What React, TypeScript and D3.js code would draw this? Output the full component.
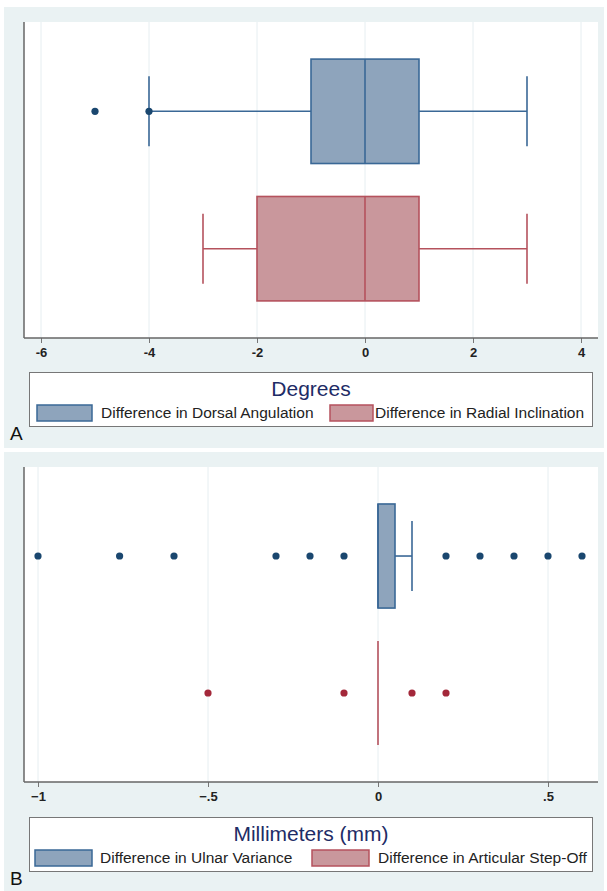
import React, { useEffect, useRef } from 'react';
import * as d3 from 'd3';

// panel A - degrees
const catsA = ['Difference in Dorsal Angulation', 'Difference in Radial Inclination'];
const q1A = [-1, -2];
const medA = [0, 0];
const q3A = [1, 1];
const loA = [-4, -3];
const hiA = [3, 3];
const outA = [[-5, -4], []];
const ticksA = [-6, -4, -2, 0, 2, 4];

// panel B - millimeters
const catsB = ['Difference in Ulnar Variance', 'Difference in Articular Step-Off'];
const q1B = [0, 0];
const medB = [0, 0];
const q3B = [0.05, 0];
const loB = [0, 0];
const hiB = [0.1, 0];
const outB = [
  [-1, -0.76, -0.6, -0.3, -0.2, -0.1, 0.2, 0.3, 0.4, 0.5, 0.6],
  [-0.5, -0.1, 0.1, 0.2],
];
const ticksB = [-1, -0.5, 0, 0.5];

const FONT = '"Liberation Sans", Arial, sans-serif';
const BG = '#eaf2f3';
const FILLS = ['#8ea4bc', '#c9979c'];
const STROKES = ['#3a6896', '#b5525d'];
const DOTS = ['#1a476f', '#a3283a'];

const drawPanel = (svg, p) => {
  const g = svg.append('g');

  // outer background
  g.append('rect')
    .attr('x', 4).attr('y', p.bgTop)
    .attr('width', 600).attr('height', p.bgBottom - p.bgTop)
    .attr('fill', BG);

  // plot region
  g.append('rect')
    .attr('x', 24).attr('y', p.plotTop)
    .attr('width', 574).attr('height', p.plotBottom - p.plotTop)
    .attr('fill', 'white');

  const x = d3.scaleLinear().domain(p.domain).range(p.range);
  const y = d3.scalePoint().domain(p.cats).range([p.plotTop, p.plotBottom]).padding(0.65);
  const step = y.step();
  const boxH = step * 0.76;
  const capH = step * 0.51;

  // grid lines
  g.selectAll('.grid')
    .data(p.ticks)
    .enter()
    .append('line')
    .attr('x1', d => x(d)).attr('x2', d => x(d))
    .attr('y1', p.plotTop).attr('y2', p.plotBottom)
    .attr('stroke', '#e6eef1').attr('stroke-width', 1);

  // boxes
  p.cats.forEach((c, i) => {
    const cy = y(c);
    const bg = g.append('g');
    // whiskers
    bg.append('line')
      .attr('x1', x(p.lo[i])).attr('x2', x(p.q1[i]))
      .attr('y1', cy).attr('y2', cy)
      .attr('stroke', STROKES[i]).attr('stroke-width', 1.6);
    bg.append('line')
      .attr('x1', x(p.q3[i])).attr('x2', x(p.hi[i]))
      .attr('y1', cy).attr('y2', cy)
      .attr('stroke', STROKES[i]).attr('stroke-width', 1.6);
    if (p.lo[i] < p.q1[i]) {
      bg.append('line')
        .attr('x1', x(p.lo[i])).attr('x2', x(p.lo[i]))
        .attr('y1', cy - capH / 2).attr('y2', cy + capH / 2)
        .attr('stroke', STROKES[i]).attr('stroke-width', 1.6);
    }
    if (p.hi[i] > p.q3[i]) {
      bg.append('line')
        .attr('x1', x(p.hi[i])).attr('x2', x(p.hi[i]))
        .attr('y1', cy - capH / 2).attr('y2', cy + capH / 2)
        .attr('stroke', STROKES[i]).attr('stroke-width', 1.6);
    }
    // box
    bg.append('rect')
      .attr('x', x(p.q1[i])).attr('y', cy - boxH / 2)
      .attr('width', x(p.q3[i]) - x(p.q1[i])).attr('height', boxH)
      .attr('fill', FILLS[i]).attr('stroke', STROKES[i]).attr('stroke-width', 1.6);
    // median
    bg.append('line')
      .attr('x1', x(p.med[i])).attr('x2', x(p.med[i]))
      .attr('y1', cy - boxH / 2).attr('y2', cy + boxH / 2)
      .attr('stroke', STROKES[i]).attr('stroke-width', 1.6);
    // outliers
    bg.selectAll('.out')
      .data(p.out[i])
      .enter()
      .append('circle')
      .attr('cx', d => x(d)).attr('cy', cy).attr('r', 3.6)
      .attr('fill', DOTS[i]);
  });

  // axes
  g.append('line')
    .attr('x1', 24).attr('x2', 24)
    .attr('y1', p.plotTop).attr('y2', p.plotBottom)
    .attr('stroke', '#666').attr('stroke-width', 1.5);

  const axis = g.append('g')
    .attr('transform', `translate(0,${p.plotBottom})`)
    .call(d3.axisBottom(x).tickValues(p.ticks).tickSize(5).tickPadding(5).tickFormat(p.fmt));
  axis.select('.domain').remove();
  axis.append('line')
    .attr('x1', 24).attr('x2', 598)
    .attr('stroke', '#666').attr('stroke-width', 1.5);
  axis.selectAll('.tick line').attr('stroke', '#777');
  axis.selectAll('text')
    .attr('font-family', FONT).attr('font-size', 13)
    .attr('font-weight', 'bold').attr('fill', '#222');

  // legend
  const lg = g.append('g');
  lg.append('rect')
    .attr('x', 29.5).attr('y', p.legTop + 0.5)
    .attr('width', 563).attr('height', 54)
    .attr('fill', 'white').attr('stroke', '#777').attr('stroke-width', 1);
  lg.append('text')
    .attr('x', 311).attr('y', p.legTop + 24)
    .attr('text-anchor', 'middle')
    .attr('font-family', FONT).attr('font-size', 21)
    .attr('fill', '#1e2c66')
    .text(p.title);
  p.cats.forEach((c, i) => {
    lg.append('rect')
      .attr('x', p.swX[i]).attr('y', p.legTop + 33)
      .attr('width', p.swW[i]).attr('height', 16)
      .attr('fill', FILLS[i]).attr('stroke', STROKES[i]).attr('stroke-width', 1.5);
    lg.append('text')
      .attr('x', p.txX[i]).attr('y', p.legTop + 46)
      .attr('font-family', FONT).attr('font-size', 15.5)
      .attr('fill', '#222')
      .text(c);
  });

  // panel letter
  g.append('text')
    .attr('x', 10).attr('y', p.legTop + 68)
    .attr('font-family', FONT).attr('font-size', 19)
    .attr('fill', '#111')
    .text(p.letter);
};

const fmtB = d => (d === 0 ? '0' : d3.format('')(d).replace('0.', '.'));

const App = () => {
  const ref = useRef(null);

  useEffect(() => {
    const svg = d3.select(ref.current);
    svg.selectAll('*').remove();

    drawPanel(svg, {
      cats: catsA, q1: q1A, med: medA, q3: q3A, lo: loA, hi: hiA, out: outA,
      ticks: ticksA, fmt: d => String(d), domain: [-6, 4], range: [41, 581],
      bgTop: 7, bgBottom: 448, plotTop: 22, plotBottom: 338,
      legTop: 372, title: 'Degrees', letter: 'A',
      swX: [37, 330], swW: [55, 43], txX: [101, 375],
    });

    drawPanel(svg, {
      cats: catsB, q1: q1B, med: medB, q3: q3B, lo: loB, hi: hiB, out: outB,
      ticks: ticksB, fmt: fmtB, domain: [-1, 0.5], range: [38, 548],
      bgTop: 452, bgBottom: 891, plotTop: 467, plotBottom: 782,
      legTop: 817, title: 'Millimeters (mm)', letter: 'B',
      swX: [35, 312], swW: [57, 57], txX: [100, 378],
    });
  }, []);

  return (
    <svg ref={ref} width={607} height={891}
      style={{ position: 'absolute', left: 0, top: 0, background: 'white' }} />
  );
};

export default App;
